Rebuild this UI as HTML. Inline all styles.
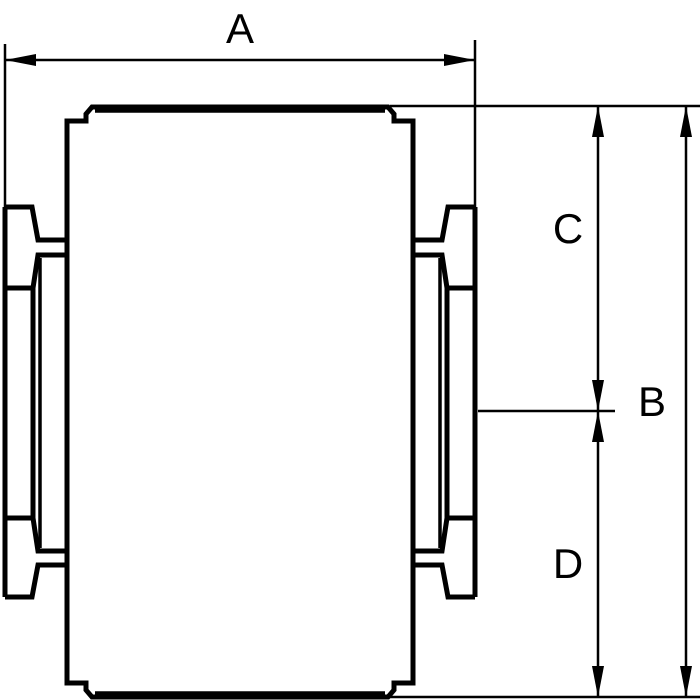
<!DOCTYPE html>
<html><head><style>html,body{margin:0;padding:0;background:#fff}svg{display:block}</style></head>
<body>
<svg width="700" height="700" viewBox="0 0 700 700" xmlns="http://www.w3.org/2000/svg">
<defs>
<g id="half" fill="none" stroke="#000" stroke-width="5" stroke-linejoin="miter">
  <path d="M240,107 H92 L86,114 V121 H67 V683 H86 V690 L92,697 H240"/>
  <path d="M240,111 H95 M240,693 H95" stroke-width="3.5"/>
  <path d="M5,207 H32 L38,240 H67"/>
  <path d="M67,255 H38 L33,288 V518 L38,551 H67"/>
  <path d="M40,258 V548" stroke-width="3.5"/>
  <path d="M5,288 H32 M5,518 H32"/>
  <path d="M67,565 H38 L32,597 H5"/>
  <path d="M5,207 V597"/>
</g>
</defs>
<use href="#half"/>
<use href="#half" transform="translate(480,0) scale(-1,1)"/>
<g stroke="#000" stroke-width="2.5" fill="none">
  <path d="M5,44 V207 M475,40 V207"/>
  <path d="M5,60 H475"/>
  <path d="M390,106 H700 M385,697 H700"/>
  <path d="M686,106 V697"/>
  <path d="M598,106 V697"/>
  <path d="M478,411 H615"/>
</g>
<g fill="#000">
  <path d="M5,60 L36,54 L36,66 Z"/>
  <path d="M475,60 L444,54 L444,66 Z"/>
  <path d="M686,106 L680,137 L692,137 Z"/>
  <path d="M686,697 L680,666 L692,666 Z"/>
  <path d="M598,106 L592,137 L604,137 Z"/>
  <path d="M598,411 L592,380 L604,380 Z"/>
  <path d="M598,411 L592,442 L604,442 Z"/>
  <path d="M598,697 L592,666 L604,666 Z"/>
</g>
<g font-family="Liberation Sans, sans-serif" font-size="42" fill="#000" text-anchor="middle">
  <text x="240" y="43">A</text>
  <text x="568" y="243">C</text>
  <text x="652" y="416">B</text>
  <text x="568" y="578">D</text>
</g>
</svg>
</body></html>
